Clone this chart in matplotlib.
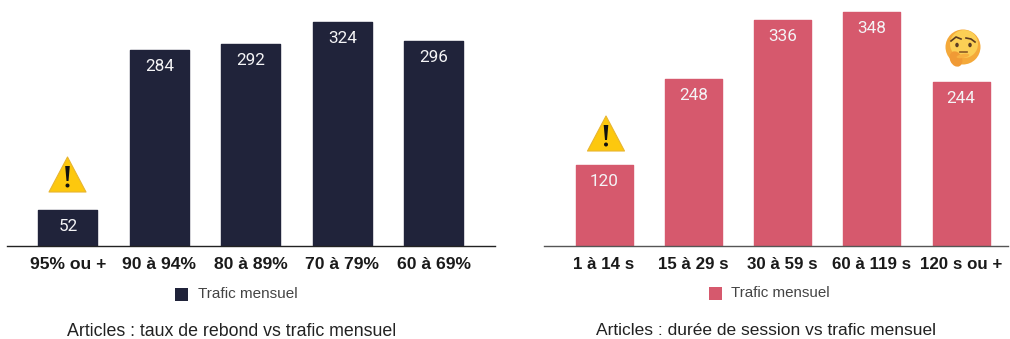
import numpy as np
import matplotlib
matplotlib.use("Agg")
import matplotlib.pyplot as plt
from matplotlib.patches import Circle, Ellipse, Polygon, Rectangle

# Données des deux graphiques
cats_rebond = ["95% ou +", "90 à 94%", "80 à 89%", "70 à 79%", "60 à 69%"]
vals_rebond = [52, 284, 292, 324, 296]
cats_duree = ["1 à 14 s", "15 à 29 s", "30 à 59 s", "60 à 119 s", "120 s ou +"]
vals_duree = [120, 248, 336, 348, 244]

W, H = 1010, 339
SANS = "Liberation Sans"
DARK = "#20233a"
RED = "#d6596d"

fig = plt.figure(figsize=(W / 100, H / 100), dpi=100, facecolor="white")


def px_axes(x0, x1, y_top, y_base):
    # axes placé en pixels, origine en haut à gauche
    return fig.add_axes([x0 / W, 1 - y_base / H, (x1 - x0) / W, (y_base - y_top) / H])


def bar_panel(x0, x1, first, step, cats, vals, color, scale, bar_w, line, tick_size):
    ax = px_axes(x0, x1, 0, 246)
    ax.set_xlim((x0 - first) / step, (x1 - first) / step)
    ax.set_ylim(0, 246 / scale)
    pos = np.arange(len(vals))
    ax.bar(pos, vals, width=bar_w / step, color=color, edgecolor=color, linewidth=1, joinstyle="round")
    for p, v in zip(pos, vals):
        ax.annotate(str(v), (p, v), xytext=(0, -6.5), textcoords="offset points", ha="center", va="top",
                    color="#f4f4f6", fontsize=12.3, family="Roboto")
    for s in ["top", "left", "right"]:
        ax.spines[s].set_visible(False)
    ax.spines["bottom"].set_color(line)
    ax.spines["bottom"].set_linewidth(1.0)
    ax.set_yticks([])
    ax.set_xticks(pos)
    ax.set_xticklabels(cats, fontsize=tick_size, fontweight="bold", family=SANS, color="#1a1a1a")
    ax.tick_params(axis="x", length=0, pad=8)
    ax.patch.set_alpha(0)
    return ax


bar_panel(7, 495, 68, 91.5, cats_rebond, vals_rebond, DARK, 0.691, 59, "#222222", 12.6)
bar_panel(544, 1008, 604, 89.25, cats_duree, vals_duree, RED, 0.672, 57, "#555555", 12.2)

# calque en pixels pour les légendes, titres et icônes
ov = fig.add_axes([0, 0, 1, 1])
ov.set_xlim(0, W)
ov.set_ylim(H, 0)
ov.axis("off")
ov.patch.set_alpha(0)


def warning(cx, top, w=37, h=35):
    ov.add_patch(Polygon([[cx, top], [cx + w / 2, top + h], [cx - w / 2, top + h]], closed=True,
                         fc="#fdc80e", ec="#e8b530", lw=0.8, joinstyle="round"))
    ov.add_patch(Polygon([[cx - 2.3, top + 9], [cx + 2.3, top + 9], [cx + 1, top + 24], [cx - 1, top + 24]],
                         closed=True, fc="#111111", ec="none"))
    ov.add_patch(Circle((cx, top + 28.5), 2, fc="#111111", ec="none"))


def thinking(cx, cy, r=17.5):
    ov.add_patch(Circle((cx, cy), r, fc="#f4a93a", ec="none"))
    ov.add_patch(Circle((cx + 1, cy - 3), r * 0.8, fc="#fbcf55", ec="none"))
    # yeux et sourcils
    ov.add_patch(Ellipse((cx - 6, cy - 2), 3.5, 4.5, fc="#5a3d25", ec="none"))
    ov.add_patch(Ellipse((cx + 7, cy - 2), 3.5, 4.5, fc="#5a3d25", ec="none"))
    ov.plot([cx - 12, cx - 7, cx - 2], [cy - 6, cy - 10, cy - 8], color="#5a3a20", lw=1.2)
    ov.plot([cx + 3, cx + 8, cx + 12], [cy - 9, cy - 8, cy - 5], color="#5a3a20", lw=1.2)
    ov.plot([cx - 3, cx + 4], [cy + 5, cy + 5], color="#8a5a25", lw=1.2)
    # main sous le menton
    ov.add_patch(Ellipse((cx - 7, cy + 12), 12, 16, angle=-25, fc="#f09a35", ec="none"))
    ov.add_patch(Ellipse((cx, cy + 9), 13, 4, angle=-10, fc="#f7b040", ec="none"))


warning(67.5, 157)
warning(606, 116)
thinking(963, 47)

# légendes
ov.add_patch(Rectangle((175, 288), 13, 13, fc=DARK, ec="none"))
ov.text(198, 293.5, "Trafic mensuel", fontsize=11, family=SANS, color="#444444", va="center")
ov.add_patch(Rectangle((708.5, 287), 13, 13, fc=RED, ec="none"))
ov.text(731, 293, "Trafic mensuel", fontsize=10.9, family=SANS, color="#444444", va="center")

# titres sous les graphiques
ov.text(231.5, 331.5, "Articles : taux de rebond vs trafic mensuel", fontsize=12.8, family=SANS,
        color="#222222", ha="center", va="center")
ov.text(766.5, 330.5, "Articles : durée de session vs trafic mensuel", fontsize=12.5, family=SANS,
        color="#222222", ha="center", va="center")

fig.savefig("out.png", dpi=100)
